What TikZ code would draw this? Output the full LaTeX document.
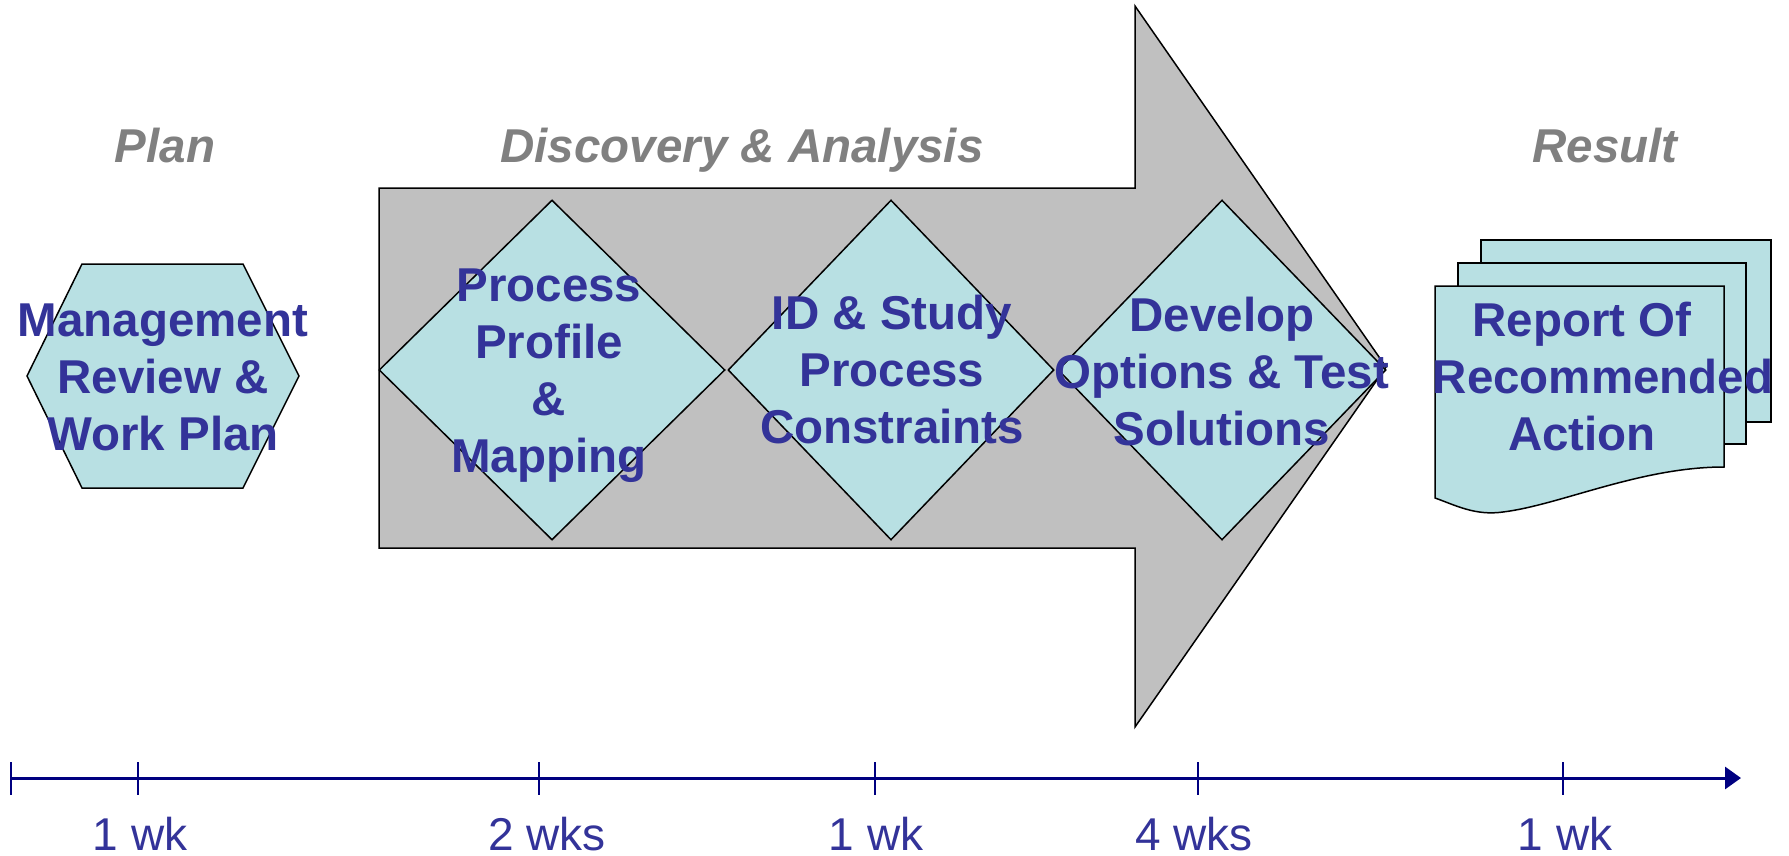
\documentclass[tikz,border=0pt]{standalone}
\usepackage{fontspec}
\setmainfont{Liberation Sans}
\usepackage{xcolor}
\usetikzlibrary{shapes.geometric,arrows.meta}

\definecolor{steptext}{HTML}{333399}
\definecolor{stepfill}{HTML}{B8E0E3}
\definecolor{arrowgray}{HTML}{C0C0C0}
\definecolor{headgray}{HTML}{808080}
\definecolor{axisblue}{HTML}{000080}

\begin{document}
\begin{tikzpicture}[x=1pt,y=-1pt,
        every node/.style={inner sep=0pt},
        plate/.style={draw=black,fill=stepfill,line width=1.5pt,line join=miter},
        stepdiamond/.style={diamond,plate,minimum width=#1,minimum height=340pt},
        steplabel/.style={font=\fontsize{47.5}{57}\selectfont\bfseries,
                          text=steptext,align=center},
        heading/.style={font=\fontsize{47.5}{57}\selectfont\bfseries\itshape,
                        text=headgray,anchor=base},
        weeks/.style={font=\fontsize{46}{55}\selectfont,text=steptext,anchor=base},
        axis/.style={draw=axisblue,line width=3pt}]
        \useasboundingbox (0,0) rectangle (1789,856);
        % big process arrow
        \draw[fill=arrowgray,line width=1.5pt,line join=miter]
            (379,188) -- (1135,188) -- (1135,6) -- (1386,367)
            -- (1135,727) -- (1135,548) -- (379,548) -- cycle;
        % phase headings
        \node[heading] (plan)   at (165,163)  {Plan};
        \node[heading] (disc)   at (742,163)  {Discovery \& Analysis};
        \node[heading] (result) at (1605,163) {Result};
        % plan hexagon
        \draw[plate] (27,376) -- (82,264) -- (243,264) -- (299,376)
            -- (243,488) -- (82,488) -- cycle;
        \node[steplabel] (mgmt) at (163,377) {Management\\Review \&\\Work Plan};
        % discovery steps
        \node[stepdiamond=346pt] (d1) at (552,370)  {};
        \node[stepdiamond=326pt] (d2) at (891,370)  {};
        \node[stepdiamond=328pt] (d3) at (1222,370) {};
        \node[steplabel] (t1) at (549,376)  {Process\\Profile\\\&\\Mapping};
        \node[steplabel] (t2) at (892,370)  {ID \& Study\\Process\\Constraints};
        \node[steplabel] (t3) at (1222,372) {Develop\\Options \& Test\\Solutions};
        % result document stack
        \draw[plate] (1481,240) rectangle (1771,422);
        \draw[plate] (1458,263) rectangle (1746,444);
        \draw[plate] (1435,286) -- (1724,286) -- (1724,467)
            .. controls (1640,467) and (1560,505) .. (1503,512)
            .. controls (1475,516) and (1455,505) .. (1435,498) -- cycle;
        \node[steplabel] (report) at (1582,377)
            {Report Of\\\hspace*{42pt}Recommended\\Action};
        % time line
        \coordinate (t0)   at (11,778);
        \coordinate (tend) at (1741,778);
        \draw[axis,-{Triangle[length=16pt,width=22pt]}] (t0) -- (tend);
        \foreach \x in {11,138,539,875,1198,1563}
            \draw[axisblue,line width=2.5pt] (\x,762) -- (\x,795);
        \foreach \x/\lab [count=\i] in {140/1 wk,547/2 wks,876/1 wk,1194/4 wks,1565/1 wk}
            \node[weeks] (w\i) at (\x,850) {\lab};
      \end{tikzpicture}
\end{document}
